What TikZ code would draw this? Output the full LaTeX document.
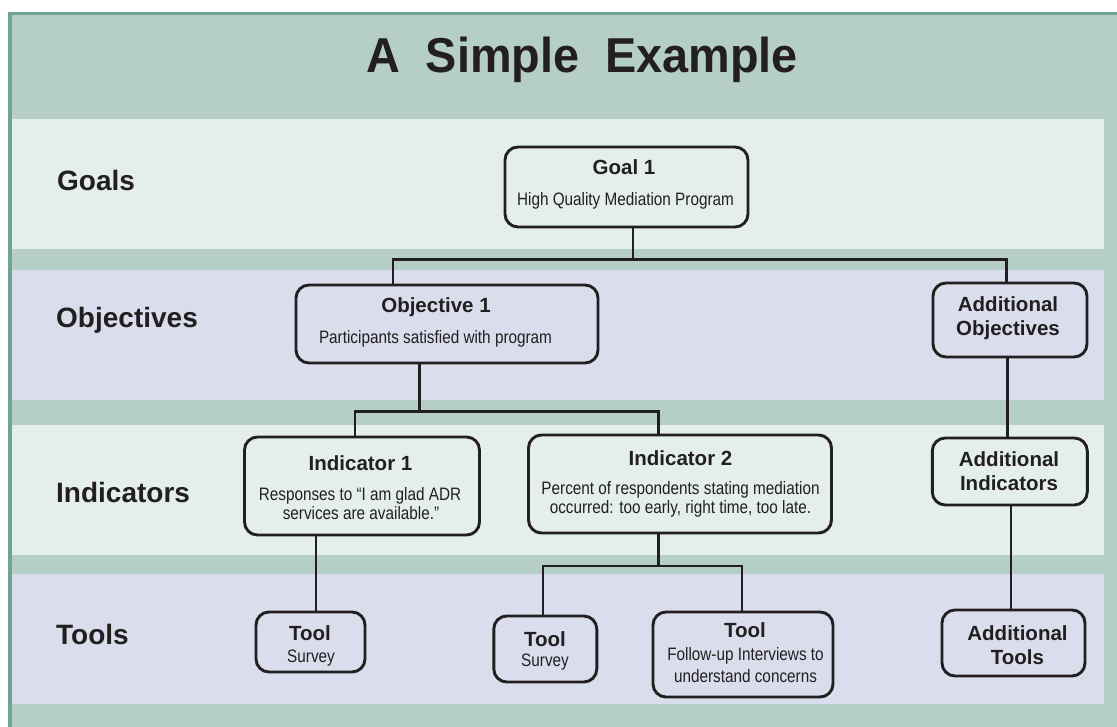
\documentclass[tikz,border=0pt]{standalone}
\usepackage{fontspec}
\setmainfont{Liberation Sans}
\newfontfamily\condfont[FakeStretch=0.85]{Liberation Sans}
\newfontfamily\titlefam[FakeStretch=0.955]{Liberation Sans}
\definecolor{ink}{HTML}{231F20}
\definecolor{frameedge}{HTML}{6FA494}
\definecolor{framefill}{HTML}{B5CFC8}
\definecolor{bandlight}{HTML}{E4EEEB}
\definecolor{bandlav}{HTML}{D9DDEC}
\tikzset{
  box/.style={draw=ink, line width=2.9pt, rounded corners=13pt, inner sep=0pt},
  conn/.style={draw=ink, line width=2.5pt},
  hd/.style={font=\bfseries\fontsize{20.5}{24}\selectfont, text=ink, anchor=base, inner sep=0pt},
  bd/.style={font=\condfont\fontsize{18}{22}\selectfont, text=ink, anchor=base, inner sep=0pt},
  rowlabel/.style={font=\bfseries\fontsize{28}{32}\selectfont, text=ink, anchor=base west, inner sep=0pt},
  titletext/.style={font=\titlefam\bfseries\fontsize{49}{55}\selectfont, text=ink, anchor=base, inner sep=0pt}
}
\begin{document}
\begin{tikzpicture}[x=1pt,y=-1pt]
\useasboundingbox (0,0) rectangle (1117,727);
% frame
\fill[frameedge] (7.5,12) rectangle (1117,727);
\fill[framefill] (11.5,15.5) rectangle (1117,727);
% bands
\fill[bandlight] (11.5,119) rectangle (1103.5,249);
\fill[bandlav] (11.5,270) rectangle (1103.5,400);
\fill[bandlight] (11.5,425) rectangle (1103.5,555);
\fill[bandlav] (11.5,574) rectangle (1103.5,704);
% title
\node[titletext] (title) at (582,73) {A\ \ Simple\ \ Example};
% row labels
\node[rowlabel] (lgoals) at (57,190.7) {Goals};
\node[rowlabel] (lobj) at (56,328) {Objectives};
\node[rowlabel] (lind) at (56,502) {Indicators};
\node[rowlabel] (ltools) at (56,644) {Tools};
% boxes
\node[box, minimum width=243pt, minimum height=80pt] (g1) at (626.5,187) {};
\node[box, minimum width=302pt, minimum height=78pt] (o1) at (447,324) {};
\node[box, minimum width=154pt, minimum height=74pt] (ao) at (1010,320) {};
\node[box, minimum width=235pt, minimum height=98pt] (i1) at (362,486) {};
\node[box, minimum width=303pt, minimum height=98pt] (i2) at (680,484) {};
\node[box, minimum width=155pt, minimum height=67pt] (ai) at (1009.8,471.5) {};
\node[box, minimum width=109pt, minimum height=60pt] (t1) at (310.5,642) {};
\node[box, minimum width=103pt, minimum height=66pt] (t2) at (545.3,649) {};
\node[box, minimum width=180pt, minimum height=85pt] (t3) at (743,654.5) {};
\node[box, minimum width=143pt, minimum height=66pt] (at) at (1013.5,643) {};
% box texts
\node[hd] (g1h) at (624,175) {Goal 1};
\node[bd] (g1b) at (625.5,206) {High Quality Mediation Program};
\node[hd] (o1h) at (436,312.7) {Objective 1};
\node[bd] (o1b) at (435.5,343.3) {Participants satisfied with program};
\node[hd] (aoh1) at (1008,311.7) {Additional};
\node[hd] (aoh2) at (1008,336) {Objectives};
\node[hd] (i1h) at (360.5,470.7) {Indicator 1};
\node[bd] (i1b1) at (360,500) {Responses to “I am glad ADR};
\node[bd] (i1b2) at (361,519) {services are available.”};
\node[hd] (i2h) at (680.5,465) {Indicator 2};
\node[bd] (i2b1) at (680.5,494) {Percent of respondents stating mediation};
\node[bd] (i2b2) at (680.5,513.5) {occurred: too early, right time, too late.};
\node[hd] (aih1) at (1009,466.7) {Additional};
\node[hd] (aih2) at (1009,490.7) {Indicators};
\node[hd] (t1h) at (310,640) {Tool};
\node[bd] (t1b) at (311,662) {Survey};
\node[hd] (t2h) at (545,646.7) {Tool};
\node[bd] (t2b) at (545,666.5) {Survey};
\node[hd] (t3h) at (745,637.5) {Tool};
\node[bd] (t3b1) at (745.5,660) {Follow-up Interviews to};
\node[bd] (t3b2) at (745.5,682.5) {understand concerns};
\node[hd] (ath1) at (1017.5,640.5) {Additional};
\node[hd] (ath2) at (1017.5,664.5) {Tools};
% junctions
\coordinate (jg) at (633,259.3);
\coordinate (jgl) at (393,259.3);
\coordinate (jgr) at (1006.5,259.3);
\coordinate (jo) at (419.6,411.7);
\coordinate (jol) at (355,411.7);
\coordinate (jor) at (658.4,411.7);
\coordinate (ji) at (658.4,566);
\coordinate (jil) at (543,566);
\coordinate (jir) at (742,566);
\coordinate (xa1) at (1007.6,0);
\coordinate (xa2) at (1011,0);
\coordinate (xt1) at (316,0);
% connectors
\draw[conn] (g1.south -| jg) -- (jg);
\draw[conn] (o1.north -| jgl) -- (jgl) -- (jgr) -- (ao.north -| jgr);
\draw[conn] (o1.south -| jo) -- (jo);
\draw[conn] (i1.north -| jol) -- (jol) -- (jor) -- (i2.north -| jor);
\draw[conn] (i2.south -| ji) -- (ji);
\draw[conn] (t2.north -| jil) -- (jil) -- (jir) -- (t3.north -| jir);
\draw[conn] (i1.south -| xt1) -- (t1.north -| xt1);
\draw[conn] (ao.south -| xa1) -- (ai.north -| xa1);
\draw[conn] (ai.south -| xa2) -- (at.north -| xa2);
\end{tikzpicture}
\end{document}
